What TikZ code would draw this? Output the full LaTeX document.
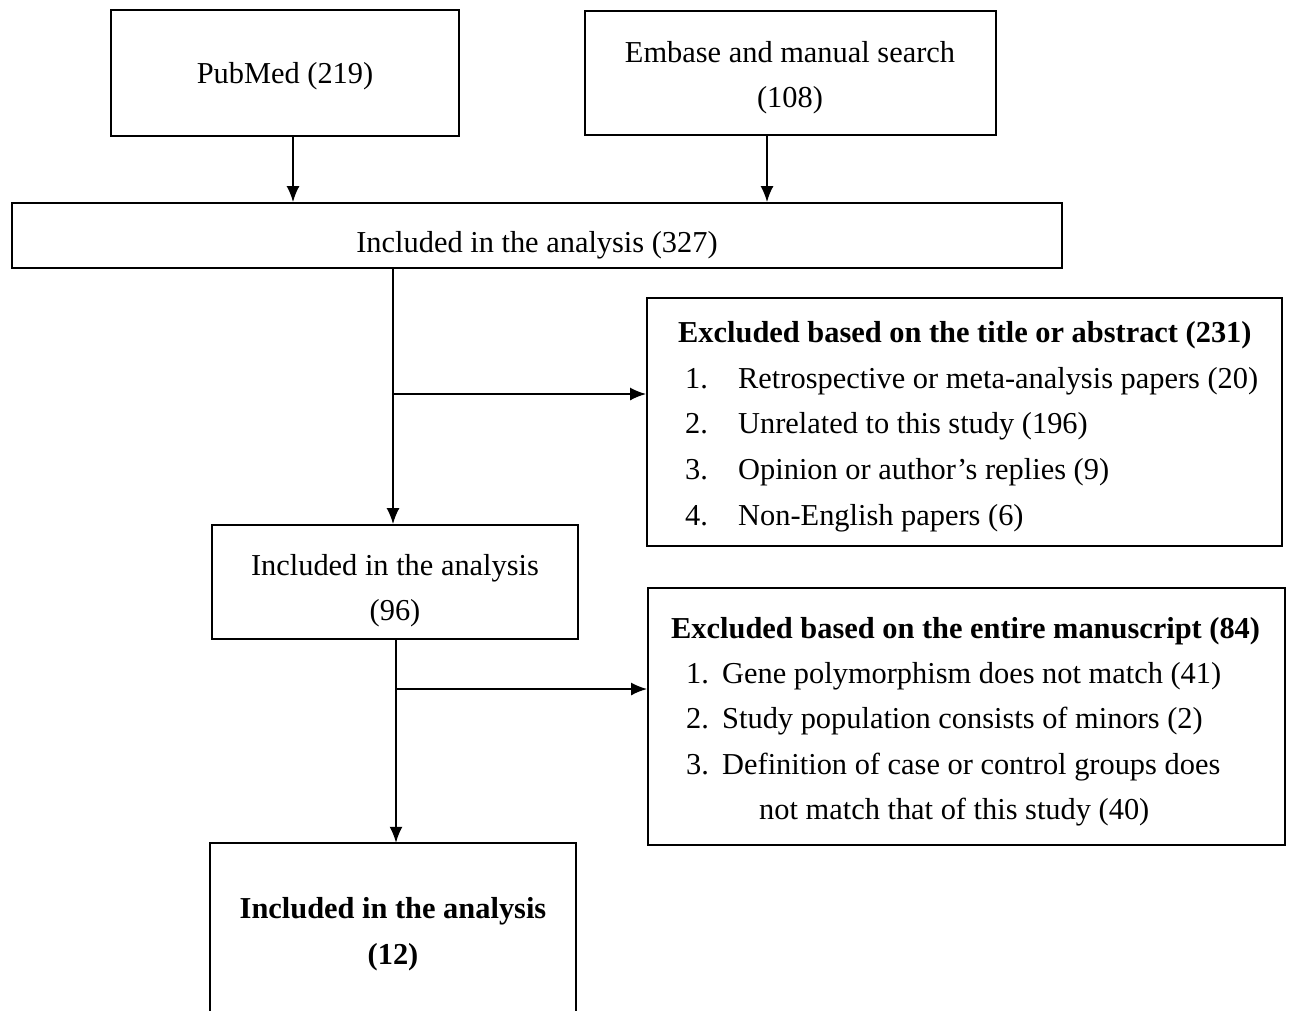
\documentclass[tikz,border=0pt]{standalone}
\usepackage{fontspec}
\setmainfont{Liberation Serif}
\usetikzlibrary{arrows.meta}
\begin{document}
\begin{tikzpicture}[x=1pt,y=-1pt,
  box/.style={draw,line width=1.8pt,inner sep=0pt},
  txt/.style={anchor=base,inner sep=0pt,font=\fontsize{30.4}{44}\selectfont},
  ltxt/.style={anchor=base west,inner sep=0pt,font=\fontsize{30.4}{44}\selectfont},
  btxt/.style={font=\fontsize{30.4}{44}\selectfont\bfseries},
  arr/.style={line width=1.8pt,-{Latex[length=16pt,width=13pt]}}]
\useasboundingbox (0,0) rectangle (1289,1010);
% boxes
\node[box,minimum width=348pt,minimum height=126pt] (pub) at (285,73) {};
\node[box,minimum width=411pt,minimum height=124pt] (emb) at (790.5,73) {};
\node[box,minimum width=1050pt,minimum height=65pt] (inc1) at (537,235.5) {};
\node[box,minimum width=635pt,minimum height=248pt] (exc1) at (964.5,422) {};
\node[box,minimum width=366pt,minimum height=114pt] (inc2) at (395,582) {};
\node[box,minimum width=637pt,minimum height=257pt] (exc2) at (966.5,716.5) {};
\node[inner sep=0pt,minimum width=366pt,minimum height=170pt] (inc3) at (393,928) {};
\draw[line width=1.8pt] (inc3.south west) -- (inc3.north west) -- (inc3.north east) -- (inc3.south east);
% texts
\node[txt] (tpub) at (285,83) {PubMed (219)};
\node[txt] (temb1) at (790,62) {Embase and manual search};
\node[txt] (temb2) at (790,107) {(108)};
\node[txt] (tinc1) at (537,252) {Included in the analysis (327)};
\node[ltxt,btxt] (te1) at (678,342) {Excluded based on the title or abstract (231)};
\node[ltxt] (n11) at (685,388) {1.};
\node[ltxt] (t11) at (738,388) {Retrospective or meta-analysis papers (20)};
\node[ltxt] (n12) at (685,433) {2.};
\node[ltxt] (t12) at (738,433) {Unrelated to this study (196)};
\node[ltxt] (n13) at (685,479) {3.};
\node[ltxt] (t13) at (738,479) {Opinion or author’s replies (9)};
\node[ltxt] (n14) at (685,525) {4.};
\node[ltxt] (t14) at (738,525) {Non-English papers (6)};
\node[txt] (tinc2a) at (395,575) {Included in the analysis};
\node[txt] (tinc2b) at (395,620) {(96)};
\node[ltxt,btxt] (te2) at (671,638) {Excluded based on the entire manuscript (84)};
\node[ltxt] (n21) at (686,683) {1.};
\node[ltxt] (t21) at (722,683) {Gene polymorphism does not match (41)};
\node[ltxt] (n22) at (686,728) {2.};
\node[ltxt] (t22) at (722,728) {Study population consists of minors (2)};
\node[ltxt] (n23) at (686,774) {3.};
\node[ltxt] (t23) at (722,774) {Definition of case or control groups does};
\node[ltxt] (t24) at (759,819) {not match that of this study (40)};
\node[txt,btxt] (tinc3a) at (393,918) {Included in the analysis};
\node[txt,btxt] (tinc3b) at (393,964) {(12)};
% connectors
\draw[arr] (pub.south -| 293,0) -- (inc1.north -| 293,0);
\draw[arr] (emb.south -| 767,0) -- (inc1.north -| 767,0);
\draw[arr] (inc1.south -| 393,0) -- (inc2.north -| 393,0);
\coordinate (b1) at (393,394);
\draw[arr] (b1) -- (b1 -| exc1.west);
\draw[arr] (inc2.south -| 396,0) -- (inc3.north -| 396,0);
\coordinate (b2) at (396,689);
\draw[arr] (b2) -- (b2 -| exc2.west);
\end{tikzpicture}
\end{document}
